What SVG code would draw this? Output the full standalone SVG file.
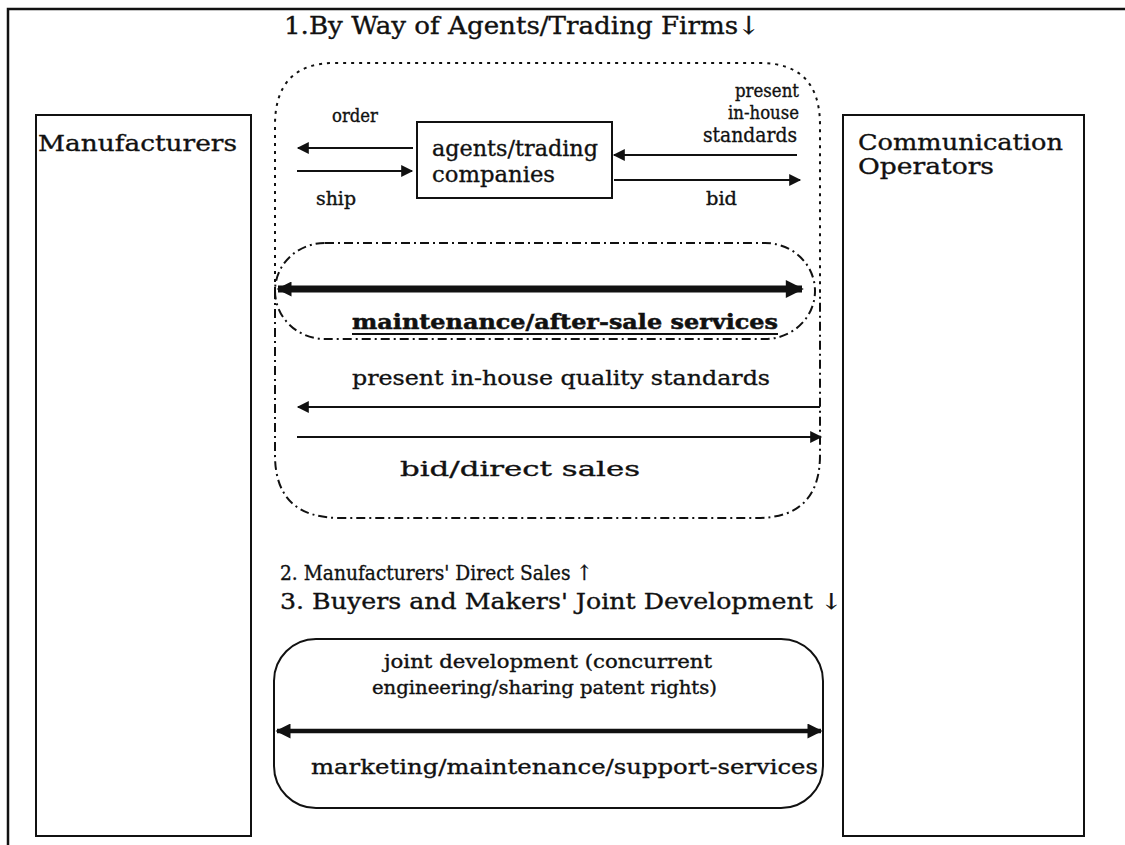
<svg xmlns="http://www.w3.org/2000/svg" width="1125" height="845" viewBox="0 0 1125 845">
  <style>
    .t { font-family: "DejaVu Serif", "Liberation Serif", serif; fill: #111; stroke: #111; stroke-width: 0.35; }
    .xl { font-size: 25px; }
    .lg { font-size: 23px; }
    .md { font-size: 21px; }
    .sm { font-size: 18px; }
    .b { font-weight: bold; stroke-width: 0.5; }
    .box { fill: none; stroke: #111; stroke-width: 2; }
    .dot { fill: none; stroke: #111; stroke-width: 2; stroke-dasharray: 3 5; }
    .dashdot { fill: none; stroke: #111; stroke-width: 2; stroke-dasharray: 9 4 2 4; }
    .ln { stroke: #111; stroke-width: 2; fill: none; }
    .thick { stroke: #111; stroke-width: 7; fill: none; }
    .med { stroke: #111; stroke-width: 4.5; fill: none; }
  </style>
  <defs>
    <marker id="ah" viewBox="0 0 10 10" refX="9" refY="5" markerUnits="userSpaceOnUse" markerWidth="14" markerHeight="12" orient="auto-start-reverse">
      <path d="M0,0 L10,5 L0,10 z" fill="#111"/>
    </marker>
    <marker id="ahBig" viewBox="0 0 10 10" refX="9" refY="5" markerUnits="userSpaceOnUse" markerWidth="24" markerHeight="18" orient="auto-start-reverse">
      <path d="M0,0 L10,5 L0,10 z" fill="#111"/>
    </marker>
    <marker id="ahMed" viewBox="0 0 10 10" refX="9" refY="5" markerUnits="userSpaceOnUse" markerWidth="18" markerHeight="15" orient="auto-start-reverse">
      <path d="M0,0 L10,5 L0,10 z" fill="#111"/>
    </marker>
  </defs>

  <rect width="1125" height="845" fill="#fff"/>

  <!-- outer frame -->
  <g id="frame">
    <path d="M8,845 L8,9 L1125,9" fill="none" stroke="#111" stroke-width="2.5"/>
  </g>

  <g id="title1">
    <text class="t xl" x="284" y="34" textLength="476" lengthAdjust="spacingAndGlyphs">1.By Way of Agents/Trading Firms↓</text>
  </g>

  <g id="manufacturers">
    <rect class="box" x="36" y="115" width="215" height="721"/>
    <text class="t lg" x="38" y="151" textLength="199" lengthAdjust="spacingAndGlyphs">Manufacturers</text>
  </g>

  <g id="operators">
    <rect class="box" x="843" y="115" width="241" height="721"/>
    <text class="t lg" x="858" y="150" textLength="205" lengthAdjust="spacingAndGlyphs">Communication</text>
    <text class="t lg" x="858" y="174" textLength="136" lengthAdjust="spacingAndGlyphs">Operators</text>
  </g>

  <!-- route 1 enclosure: dotted upper part, dash-dot lower part -->
  <g id="route1">
    <path class="dot" d="M275,290 L275,125 Q275,63 335,63 L760,63 Q820,63 820,125 L820,290"/>
    <path class="dashdot" d="M275,290 L275,455 Q275,518 340,518 L757,518 Q820,518 820,455 L820,290"/>
  </g>

  <g id="agents">
    <rect class="box" x="417" y="122" width="195" height="76"/>
    <text class="t lg" x="432" y="156" textLength="166" lengthAdjust="spacingAndGlyphs">agents/trading</text>
    <text class="t lg" x="432" y="182" textLength="123" lengthAdjust="spacingAndGlyphs">companies</text>
  </g>

  <g id="maintenance">
    <rect class="dashdot" x="275" y="243" width="540" height="96" rx="50" ry="48"/>
    <text class="t md b" x="352" y="329" textLength="426" lengthAdjust="spacingAndGlyphs">maintenance/after-sale services</text>
    <line x1="352" y1="334" x2="778" y2="334" stroke="#111" stroke-width="2"/>
  </g>

  <g id="joint">
    <rect class="box" x="274" y="639" width="549" height="169" rx="42" ry="42"/>
  </g>

  <g id="connectors">
    <line class="ln" x1="413" y1="148" x2="298" y2="148" marker-end="url(#ah)"/>
    <line class="ln" x1="297" y1="171" x2="412" y2="171" marker-end="url(#ah)"/>
    <line class="ln" x1="797" y1="155" x2="614" y2="155" marker-end="url(#ah)"/>
    <line class="ln" x1="614" y1="180" x2="800" y2="180" marker-end="url(#ah)"/>
    <line class="thick" x1="278" y1="289" x2="802" y2="289" marker-start="url(#ahMed)" marker-end="url(#ahBig)"/>
    <line class="ln" x1="820" y1="407" x2="298" y2="407" marker-end="url(#ah)"/>
    <line class="ln" x1="297" y1="437" x2="821" y2="437" marker-end="url(#ah)"/>
    <line class="med" x1="277" y1="731" x2="821" y2="731" marker-start="url(#ahMed)" marker-end="url(#ahMed)"/>
  </g>

  <g id="labels">
    <text class="t sm" x="332" y="122" textLength="46" lengthAdjust="spacingAndGlyphs">order</text>
    <text class="t sm" x="316" y="205" textLength="40" lengthAdjust="spacingAndGlyphs">ship</text>
    <text class="t sm" x="735" y="97" textLength="64" lengthAdjust="spacingAndGlyphs">present</text>
    <text class="t sm" x="728" y="119" textLength="71" lengthAdjust="spacingAndGlyphs">in-house</text>
    <text class="t md" x="703" y="142" textLength="94" lengthAdjust="spacingAndGlyphs">standards</text>
    <text class="t sm" x="706" y="205" textLength="31" lengthAdjust="spacingAndGlyphs">bid</text>
    <text class="t md" x="352" y="385" textLength="418" lengthAdjust="spacingAndGlyphs">present in-house quality standards</text>
    <text class="t md" x="400" y="476" textLength="240" lengthAdjust="spacingAndGlyphs">bid/direct sales</text>
    <text class="t md" x="280" y="580" textLength="312" lengthAdjust="spacingAndGlyphs">2. Manufacturers' Direct Sales ↑</text>
    <text class="t" style="font-size:22px" x="280" y="609" textLength="562" lengthAdjust="spacingAndGlyphs">3. Buyers and Makers' Joint Development ↓</text>
    <text class="t sm" x="384" y="668" textLength="328" lengthAdjust="spacingAndGlyphs">joint development (concurrent</text>
    <text class="t sm" x="372" y="694" textLength="345" lengthAdjust="spacingAndGlyphs">engineering/sharing patent rights)</text>
    <text class="t md" x="311" y="774" textLength="507" lengthAdjust="spacingAndGlyphs">marketing/maintenance/support-services</text>
  </g>
</svg>
